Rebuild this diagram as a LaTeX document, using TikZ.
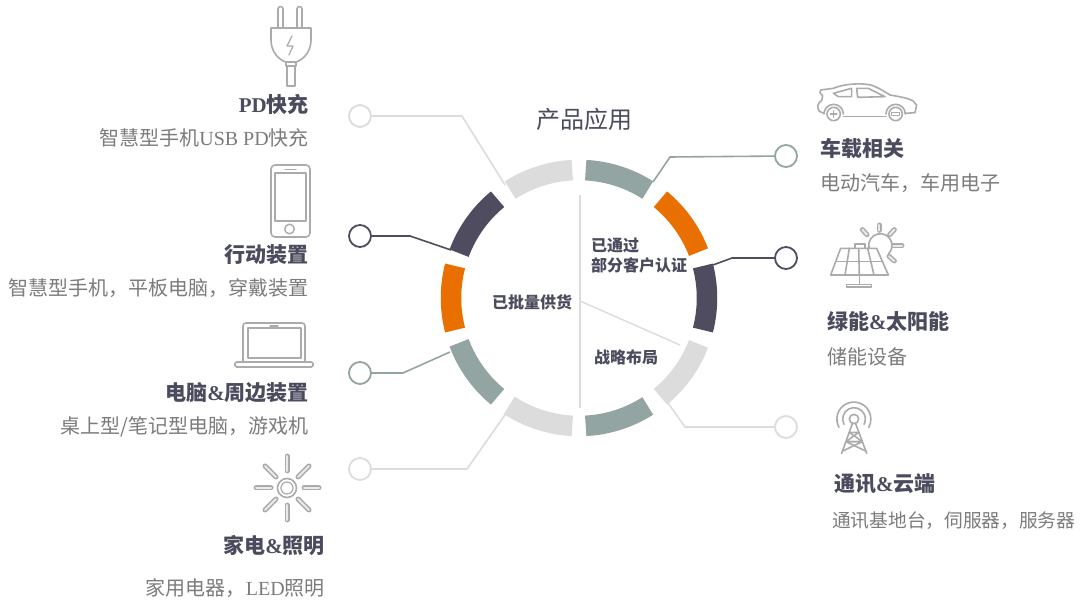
\documentclass[tikz,border=0pt]{standalone}
\usepackage{fontspec}
\setmainfont{Liberation Serif}
\newfontfamily\cjk{Noto Sans CJK SC}
\newfontfamily\latf{Liberation Serif}
\newcommand{\lat}[1]{{\latf #1}}
\definecolor{cdark}{HTML}{4F4C5F}
\definecolor{corange}{HTML}{E96F00}
\definecolor{cteal}{HTML}{93A5A2}
\definecolor{clight}{HTML}{DCDCDC}
\definecolor{ctitle}{HTML}{4B4B5E}
\definecolor{csub}{HTML}{7C7C7C}
\definecolor{cicon}{HTML}{ABABAB}
\newcommand{\seg}[3]{\draw[line width=20.5pt,#1] ([shift={(-#2:128)}]o) arc[start angle=-#2,end angle=-#3,radius=128];}
\tikzset{
  ring/.style={circle,minimum size=22pt,inner sep=0pt,fill=white,line width=1.8pt},
  conn/.style={line width=1.6pt},
  head/.style={inner sep=0pt,text=ctitle,font=\cjk\bfseries\fontsize{21}{24}\selectfont},
  sub/.style={inner sep=0pt,text=csub,font=\cjk\fontsize{20}{24}\selectfont},
  subs/.style={inner sep=0pt,text=csub,font=\cjk\fontsize{18.7}{24}\selectfont},
  inner/.style={inner sep=0pt,text=ctitle,font=\cjk\bfseries\fontsize{16}{19}\selectfont},
  icon/.style={draw=cicon,line width=1.6pt,line join=round,line cap=round},
  ray/.style={draw=cicon,line width=1.5pt,double=cicon!25,double distance=2pt,line cap=round}
}
\begin{document}
\begin{tikzpicture}[x=1pt,y=-1pt]
\useasboundingbox (0,0) rectangle (1080,601);
\fill[white] (0,0) rectangle (1080,601);
\coordinate (o) at (579,298);
% dividers
\coordinate (d1) at (580,195);
\coordinate (d2) at (580,408);
\coordinate (d3) at (580,301);
\coordinate (d4) at (680,345);
\draw[line width=1.4pt,clight] (d1) -- (d2);
\draw[line width=1.4pt,clight] (d3) -- (d4);
% ring
\seg{clight}{93}{122.5}
\seg{cdark}{129.5}{159.5}
\seg{corange}{165.5}{194.5}
\seg{cteal}{200.5}{230.5}
\seg{clight}{237}{267}
\seg{cteal}{87}{57.5}
\seg{corange}{50.5}{21}
\seg{cdark}{14.5}{-14.5}
\seg{clight}{-21}{-50.5}
\seg{cteal}{-57.5}{-87}
% connectors
\node[ring,draw=clight] (cl1) at (360,116) {};
\node[ring,draw=cdark] (cl2) at (360,236) {};
\node[ring,draw=cteal] (cl3) at (360,373) {};
\node[ring,draw=clight] (cl4) at (360,469) {};
\node[ring,draw=cteal] (cr1) at (786,156) {};
\node[ring,draw=cdark] (cr2) at (786,258) {};
\node[ring,draw=clight] (cr3) at (786,427) {};
\coordinate (bl1) at (462,116); \coordinate (el1) at (505,185);
\coordinate (bl2) at (410,236); \coordinate (el2) at (451,250);
\coordinate (bl3) at (403,373); \coordinate (el3) at (450,352);
\coordinate (bl4) at (467,469); \coordinate (el4) at (507,412);
\coordinate (br1) at (670,157); \coordinate (er1) at (653,182);
\coordinate (br2) at (732,258); \coordinate (er2) at (713,265);
\coordinate (br3) at (685,427); \coordinate (er3) at (668,403);
\draw[conn,clight] (cl1) -- (bl1) -- (el1);
\draw[conn,cdark] (cl2) -- (bl2) -- (el2);
\draw[conn,cteal] (cl3) -- (bl3) -- (el3);
\draw[conn,clight] (cl4) -- (bl4) -- (el4);
\draw[conn,cteal] (cr1) -- (br1) -- (er1);
\draw[conn,cdark] (cr2) -- (br2) -- (er2);
\draw[conn,clight] (cr3) -- (br3) -- (er3);
% centre text
\node[inner sep=0pt,text=ctitle,font=\cjk\fontsize{24}{26}\selectfont] (title) at (584,119) {产品应用};
\node[inner,anchor=west] (t1a) at (591,246) {已通过};
\node[inner,anchor=west] (t1b) at (591,265) {部分客户认证};
\node[inner] (t2) at (532,302) {已批量供货};
\node[inner] (t3) at (626,357) {战略布局};
% left labels
\node[head,anchor=east] (l1) at (309,104) {\lat{PD}快充};
\node[sub,anchor=east] (l1s) at (309,138) {智慧型手机\lat{USB PD}快充};
\node[head,anchor=east] (l2) at (309,255) {行动装置};
\node[sub,anchor=east] (l2s) at (309,288) {智慧型手机，平板电脑，穿戴装置};
\node[head,anchor=east] (l3) at (309,393) {电脑\lat{\&}周边装置};
\node[sub,anchor=east] (l3s) at (309,427) {桌上型/笔记型电脑，游戏机};
\node[head,anchor=east] (l4) at (325,545) {家电\lat{\&}照明};
\node[sub,anchor=east] (l4s) at (325,588) {家用电器，\lat{LED}照明};
% right labels
\node[head,anchor=west] (r1) at (820,149) {车载相关};
\node[sub,anchor=west] (r1s) at (820,183) {电动汽车，车用电子};
\node[head,anchor=west] (r2) at (827,322) {绿能\lat{\&}太阳能};
\node[sub,anchor=west] (r2s) at (827,357) {储能设备};
\node[head,anchor=west] (r3) at (834,484) {通讯\lat{\&}云端};
\node[subs,anchor=west] (r3s) at (832,521) {通讯基地台，伺服器，服务器};
% plug icon
\draw[icon] (278,28) -- (278,9) arc[start angle=180,end angle=360,radius=2.5] -- (283,28);
\draw[icon] (297,28) -- (297,9) arc[start angle=180,end angle=360,radius=2.5] -- (302,28);
\draw[icon] (271,28) -- (311,28) -- (311,40) .. controls (311,52) and (303,60) .. (296,62) -- (286,62) .. controls (279,60) and (271,52) .. (271,40) -- cycle;
\draw[icon] (286,62) -- (286,66) -- (296,66) -- (296,62);
\draw[icon] (287,66) -- (287,86) -- (295,86) -- (295,66);
\draw[icon,line width=1.2pt] (292,36) -- (287,46) -- (293,46) -- (289,55);
% phone
\draw[icon,rounded corners=4pt] (271,165) rectangle (310,237);
\draw[icon,line width=1.2pt] (275,173) rectangle (306,221);
\draw[icon,line width=1.2pt] (285,169.5) -- (296,169.5);
\draw[icon,line width=1.4pt] (289.5,229) circle[radius=4.8];
% laptop
\draw[icon,rounded corners=3pt] (243,362) -- (243,323) -- (305,323) -- (305,362);
\draw[icon,line width=1.2pt] (248,328) rectangle (301,358);
\draw[icon,line width=1.2pt] (270,326) -- (278,326);
\draw[icon,rounded corners=1.5pt] (235,362) rectangle (313,367);
% sun
\draw[icon] (287,488) circle[radius=9.5];
\draw[icon,line width=1.2pt] (287,488) circle[radius=6];
\draw[ray] (287,456) -- (287,471);
\draw[ray] (287,505) -- (287,520);
\draw[ray] (256,488) -- (271,488);
\draw[ray] (304,488) -- (319,488);
\draw[ray] (265,466) -- (276,477);
\draw[ray] (309,466) -- (298,477);
\draw[ray] (265,510) -- (276,499);
\draw[ray] (309,510) -- (298,499);
% car
\begin{scope}[shift={(800,70)},x=0.3333pt,y=-0.3333pt]
\draw[icon] (72,130) -- (58,124) .. controls (50,112) and (52,100) .. (65,92) -- (68,78) -- (60,68) -- (62,60) -- (100,55) .. controls (130,42) and (180,38) .. (212,45) .. controls (235,52) and (255,66) .. (270,75) .. controls (300,80) and (325,85) .. (338,92) -- (350,105) -- (345,128) -- (318,130);
\draw[icon] (130,140) -- (258,140);
\draw[icon] (72,132) arc[start angle=180,end angle=360,radius=29];
\draw[icon] (258,132) arc[start angle=180,end angle=360,radius=29];
\draw[icon] (101,132) circle[radius=20];
\draw[icon] (287,132) circle[radius=20];
\draw[icon,line width=1.2pt] (91,132) -- (111,132) (101,122) -- (101,142);
\draw[icon,line width=1.2pt] (275,127) rectangle (299,137);
\draw[icon] (100,70) -- (155,55) -- (155,80) -- (115,80) -- cycle;
\draw[icon] (170,55) -- (205,55) -- (255,80) -- (173,82) -- cycle;
\end{scope}
% solar
\begin{scope}[shift={(820,215)},x=0.3333pt,y=-0.3333pt]
\draw[icon] (62,100) -- (170,100) -- (205,180) -- (32,180) -- cycle;
\draw[icon] (47,140) -- (188,140);
\draw[icon] (88,100) -- (75,180) (116,100) -- (118,180) (143,100) -- (162,180);
\draw[icon] (118,180) -- (118,208) (80,216) -- (80,208) -- (155,208) -- (155,216) -- cycle;
\draw[icon] (105,99) -- (105,87) -- (135,87) -- (135,99);
\draw[icon] (147,99) arc[start angle=167,end angle=405,radius=35];
\draw[ray] (178,30) -- (178,46);
\draw[ray] (127,44) -- (141,59);
\draw[ray] (223,44) -- (209,59);
\draw[ray] (220,92) -- (246,92);
\draw[ray] (207,124) -- (223,138);
\end{scope}
% tower
\begin{scope}[shift={(820,395)},x=0.3333pt,y=-0.3333pt]
\draw[icon] (102,72) circle[radius=14];
\draw[icon] (72,88) arc[start angle=152,end angle=388,radius=34];
\draw[icon] (57,97) arc[start angle=151,end angle=389,radius=51];
\draw[icon] (97,86) -- (65,175) (107,86) -- (140,175);
\draw[icon] (88,112) -- (116,112) -- (78,140) -- (127,140) -- (68,168);
\draw[icon] (88,112) -- (127,140) -- (78,140) -- (137,168);
\end{scope}
\end{tikzpicture}
\end{document}
